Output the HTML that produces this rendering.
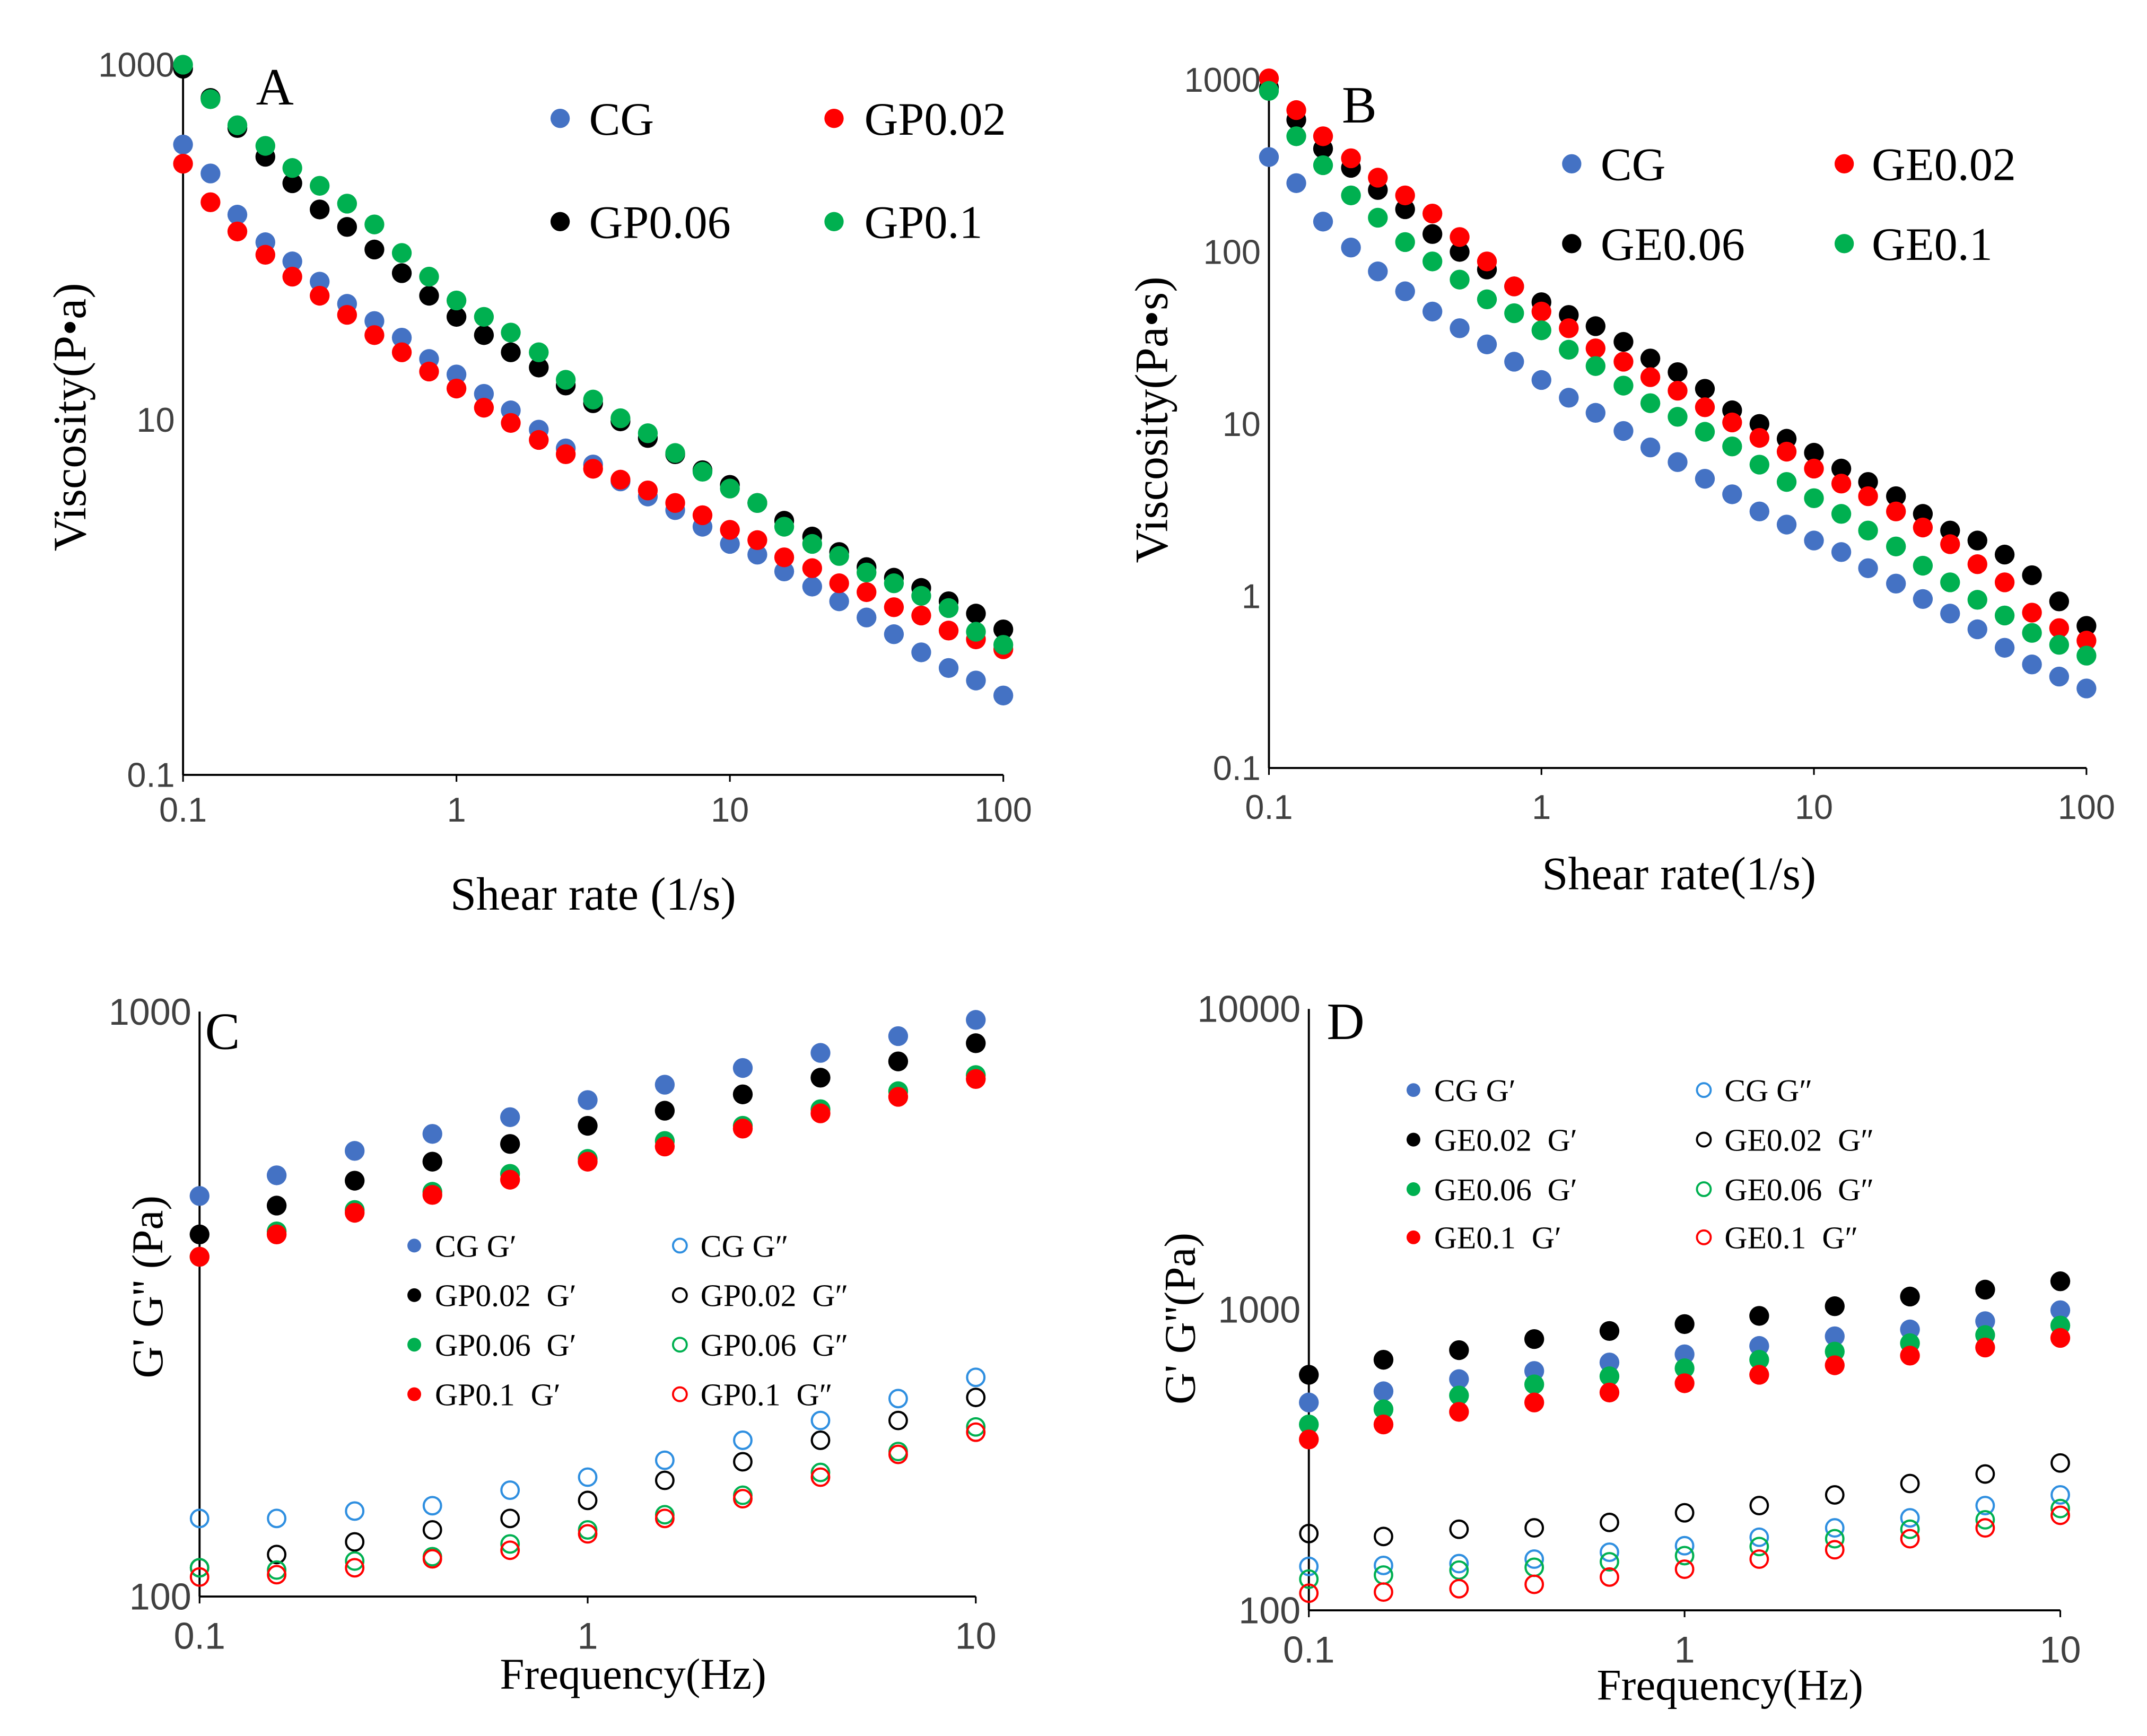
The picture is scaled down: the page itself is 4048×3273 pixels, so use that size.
<!DOCTYPE html>
<html><head><meta charset="utf-8"><style>
html,body{margin:0;padding:0;background:#fff;}
svg{display:block;}
text{font-family:"Liberation Serif",serif;white-space:pre;}
text.tick{font-family:"Liberation Sans Narrow","Liberation Sans",sans-serif;}
</style></head><body>
<svg id="fig" width="4048" height="3273" viewBox="0 0 1560 1261.3" xmlns="http://www.w3.org/2000/svg"></svg>
<script>
// ---------- data ----------
const shearRates = [0.1,0.126,0.158,0.2,0.251,0.316,0.398,0.501,0.631,0.794,1,1.26,1.58,2,2.51,3.16,3.98,5.01,6.31,7.94,10,12.6,15.8,20,25.1,31.6,39.8,50.1,63.1,79.4,100];
const freqs = [0.1,0.158,0.251,0.398,0.631,1,1.58,2.51,3.98,6.31,10];

const aCG = [355,244,143,100,78,60,45,36,29,22,18,14,11.3,8.8,6.9,5.6,4.5,3.7,3.1,2.5,2.0,1.74,1.4,1.15,0.95,0.77,0.62,0.49,0.40,0.34,0.28];
const aGP002 = [277,168,115,85,64,50,39,30,24,18.7,15,11.7,9.6,7.7,6.4,5.3,4.6,4.0,3.4,2.9,2.4,2.1,1.68,1.46,1.2,1.07,0.88,0.79,0.65,0.58,0.51];
const aGP006 = [950,650,440,303,215,153,122,91,67,50,38,30,24,19.7,15.6,12.4,9.8,7.9,6.4,5.2,4.3,3.4,2.7,2.2,1.8,1.48,1.29,1.13,0.95,0.81,0.66];
const aGP01 = [1000,640,456,349,262,208,165,126,87,64,47,38,31,24,16.8,13,10.2,8.4,6.5,5.1,4.1,3.4,2.5,2.0,1.71,1.38,1.2,1.02,0.87,0.64,0.54];

const bCG = [356,251,150,106,77,59,45,36,29,23,18,14.2,11.6,9.1,7.3,6.0,4.8,3.9,3.1,2.6,2.1,1.8,1.45,1.18,0.96,0.79,0.64,0.50,0.40,0.34,0.29];
const bGE002 = [1020,667,470,350,270,213,167,122,88,63,45,36,27.5,23,18.7,15.6,12.5,10.2,8.3,6.9,5.5,4.5,3.8,3.1,2.5,2.0,1.53,1.2,0.8,0.65,0.55];
const bGE006 = [900,586,398,308,229,177,127,100,79,63,51,43,37,30,24,20,16,12,10,8.2,6.8,5.5,4.6,3.8,3.0,2.4,2.1,1.74,1.32,0.93,0.67];
const bGE01 = [863,470,319,213,158,114,88,69,53,44,35,27,21.7,16.7,13.2,11,9.0,7.4,5.8,4.6,3.7,3.0,2.4,1.94,1.5,1.2,0.95,0.77,0.61,0.52,0.45];

const cCGp = [484,525,578,618,660,706,750,801,850,908,968];
const cGP002p = [416,466,514,554,594,638,677,722,771,822,883];
const cGP006p = [381,421,458,492,528,560,601,638,681,731,779];
const cGP01p = [381,416,453,486,516,554,588,631,670,715,767];
const cCGpp = [136,136,140,143,152,160,171,185,200,218,237];
const cGP002pp = [112,118,124,130,136,146,158,170,185,200,219];
const cGP006pp = [112,111,115,117,123,130,138,149,163,177,195];
const cGP01pp = [108,109,112,116,120,128,136,147,160,175,191];

const dGE002p = [607,681,733,798,849,895,953,1026,1105,1165,1242];
const dCGp = [491,535,587,625,667,710,757,815,859,915,995];
const dGE006p = [415,466,518,564,600,638,681,725,773,823,885];
const dGE01p = [370,415,457,491,530,569,607,653,703,748,805];
const dGE002pp = [180,176,186,188,196,211,223,242,264,284,309];
const dCGpp = [140,141,143,148,156,164,175,188,203,223,242];
const dGE006pp = [127,131,136,139,145,152,163,173,186,200,218];
const dGE01pp = [114,115,118,122,129,137,148,159,173,188,207];

const aYTicks = ["1000","10","0.1"];
const bYTicks = ["1000","100","10","1","0.1"];
const cYTicks = ["1000","100"];
const dYTicks = ["10000","1000","100"];
const abXTicks = ["0.1","1","10","100"];
const cdXTicks = ["0.1","1","10"];

// ---------- drawing ----------
const NS="http://www.w3.org/2000/svg";
const svg=document.getElementById('fig');
const BLUE="#4472C4",RED="#FF0000",BLK="#000000",GRN="#00B050",OBLUE="#2F8FE0";
function mk(tag,attrs,parent){const e=document.createElementNS(NS,tag);for(const k in attrs)e.setAttribute(k,attrs[k]);(parent||svg).appendChild(e);return e;}
function logAxis(v0,v1,p0,p1){const l0=Math.log10(v0),l1=Math.log10(v1);return v=>p0+(Math.log10(v)-l0)/(l1-l0)*(p1-p0);}

function panel(cfg){
  const g=mk('g',{});
  
  
  const X=logAxis(cfg.xmin,cfg.xmax,cfg.x0,cfg.x1);
  const Y=logAxis(cfg.ymin,cfg.ymax,cfg.y0,cfg.y1);
  const ya=mk('line',{x1:cfg.x0,y1:cfg.y0,x2:cfg.x0,y2:cfg.y1,stroke:'#000','stroke-width':1.5},g);
  
  
  const xa=mk('line',{x1:cfg.x0,y1:cfg.y0,x2:cfg.x1,y2:cfg.y0,stroke:'#000','stroke-width':1.5},g);
  
  
  cfg.xticks.forEach(t=>{
    const x=X(parseFloat(t));
    mk('line',{x1:x,y1:cfg.y0,x2:x,y2:cfg.y0+5,stroke:'#000','stroke-width':1.2},g);
    const tx=mk('text',{class:'tick',x:x,y:cfg.y0+cfg.xtdy,'text-anchor':'middle','font-size':cfg.tfs,fill:'#404040'},g);
    tx.textContent=t;
    
    
  });
  cfg.yticks.forEach(t=>{
    const y=Y(parseFloat(t));
    const tx=mk('text',{class:'tick',x:cfg.x0-6,y:y+cfg.tfs*0.35,'text-anchor':'end','font-size':cfg.tfs,fill:'#404040'},g);
    tx.textContent=t;
    
    
  });
  const xt=mk('text',{x:cfg.xtx,y:cfg.xty,'text-anchor':'middle','font-size':cfg.afs},g);
  xt.textContent=cfg.xtitle;
  
  
  const yt=mk('text',{x:0,y:0,'text-anchor':'middle','font-size':cfg.afs,transform:`translate(${cfg.ytx},${cfg.yty}) rotate(-90)`},g);
  yt.textContent=cfg.ytitle;
  
  
  const pl=mk('text',{x:cfg.lx,y:cfg.ly,'font-size':38},g);
  pl.textContent=cfg.letter;
  
  
  cfg.series.forEach(s=>{
    const sg=mk('g',{},g);
    
    
    s.vals.forEach((v,i)=>{
      const c=mk('circle',{cx:X(cfg.xs[i]),cy:Y(v),r:s.open?6.3:7.2,fill:s.open?'none':s.color,stroke:s.open?s.color:'none','stroke-width':1.6},sg);
      
      
    });
  });
  cfg.legend.forEach(L=>{
    const lg=mk('g',{},g);
    
    
    mk('circle',{cx:L.mx,cy:L.y,r:L.r,fill:L.open?'none':L.color,stroke:L.open?L.color:'none','stroke-width':1.5},lg);
    const t=mk('text',{x:L.tx,y:L.y+L.fs*0.35,'font-size':L.fs},lg);
    t.textContent=L.text;
  });
}

panel({name:'panel-a',letter:'A',lx:186,ly:76,xs:shearRates,xmin:0.1,xmax:100,x0:133,x1:729,ymin:0.1,ymax:1000,y0:563,y1:47,
  xticks:abXTicks,yticks:aYTicks,tfs:25,xtdy:34,afs:34,xtitle:'Shear rate (1/s)',xtx:431,xty:661,ytitle:'Viscosity(P•a)',ytx:62,yty:303,
  series:[{key:'cg',vals:aCG,color:BLUE},{key:'gp0.02',vals:aGP002,color:RED},{key:'gp0.06',vals:aGP006,color:BLK},{key:'gp0.1',vals:aGP01,color:GRN}],
  legend:[{mx:407,tx:428,y:86,color:BLUE,text:'CG',fs:34,r:7},{mx:606,tx:628,y:86,color:RED,text:'GP0.02',fs:34,r:7},
          {mx:407,tx:428,y:161,color:BLK,text:'GP0.06',fs:34,r:7},{mx:606,tx:628,y:161,color:GRN,text:'GP0.1',fs:34,r:7}]});

panel({name:'panel-b',letter:'B',lx:975,ly:89,xs:shearRates,xmin:0.1,xmax:100,x0:922,x1:1516,ymin:0.1,ymax:1000,y0:558,y1:58,
  xticks:abXTicks,yticks:bYTicks,tfs:25,xtdy:37,afs:34,xtitle:'Shear rate(1/s)',xtx:1220,xty:646,ytitle:'Viscosity(Pa•s)',ytx:848,yty:305,
  series:[{key:'cg',vals:bCG,color:BLUE},{key:'ge0.06',vals:bGE006,color:BLK},{key:'ge0.02',vals:bGE002,color:RED},{key:'ge0.1',vals:bGE01,color:GRN}],
  legend:[{mx:1142,tx:1163,y:119,color:BLUE,text:'CG',fs:34,r:7},{mx:1340,tx:1360,y:119,color:RED,text:'GE0.02',fs:34,r:7},
          {mx:1142,tx:1163,y:177,color:BLK,text:'GE0.06',fs:34,r:7},{mx:1340,tx:1360,y:177,color:GRN,text:'GE0.1',fs:34,r:7}]});

panel({name:'panel-c',letter:'C',lx:149,ly:762,xs:freqs,xmin:0.1,xmax:10,x0:145,x1:709,ymin:100,ymax:1000,y0:1160,y1:735,
  xticks:cdXTicks,yticks:cYTicks,tfs:27,xtdy:38,afs:32,xtitle:'Frequency(Hz)',xtx:460,xty:1227,ytitle:"G' G'' (Pa)",ytx:118,yty:935,
  series:[{key:'cg-gp',vals:cCGp,color:BLUE},{key:'gp0.02-gp',vals:cGP002p,color:BLK},{key:'gp0.06-gp',vals:cGP006p,color:GRN},{key:'gp0.1-gp',vals:cGP01p,color:RED},
          {key:'cg-gpp',vals:cCGpp,color:OBLUE,open:true},{key:'gp0.02-gpp',vals:cGP002pp,color:BLK,open:true},{key:'gp0.06-gpp',vals:cGP006pp,color:GRN,open:true},{key:'gp0.1-gpp',vals:cGP01pp,color:RED,open:true}],
  legend:[{mx:301,tx:316,y:905,color:BLUE,text:'CG G′',fs:23,r:5},{mx:494,tx:509,y:905,color:OBLUE,open:true,text:'CG G″',fs:23,r:5},
          {mx:301,tx:316,y:941,color:BLK,text:'GP0.02  G′',fs:23,r:5},{mx:494,tx:509,y:941,color:BLK,open:true,text:'GP0.02  G″',fs:23,r:5},
          {mx:301,tx:316,y:977,color:GRN,text:'GP0.06  G′',fs:23,r:5},{mx:494,tx:509,y:977,color:GRN,open:true,text:'GP0.06  G″',fs:23,r:5},
          {mx:301,tx:316,y:1013,color:RED,text:'GP0.1  G′',fs:23,r:5},{mx:494,tx:509,y:1013,color:RED,open:true,text:'GP0.1  G″',fs:23,r:5}]});

panel({name:'panel-d',letter:'D',lx:964,ly:755,xs:freqs,xmin:0.1,xmax:10,x0:951,x1:1497,ymin:100,ymax:10000,y0:1170,y1:733,
  xticks:cdXTicks,yticks:dYTicks,tfs:27,xtdy:38,afs:32,xtitle:'Frequency(Hz)',xtx:1257,xty:1235,ytitle:"G' G''(Pa)",ytx:868,yty:958,
  series:[{key:'cg-gp',vals:dCGp,color:BLUE},{key:'ge0.02-gp',vals:dGE002p,color:BLK},{key:'ge0.06-gp',vals:dGE006p,color:GRN},{key:'ge0.1-gp',vals:dGE01p,color:RED},
          {key:'ge0.02-gpp',vals:dGE002pp,color:BLK,open:true},{key:'cg-gpp',vals:dCGpp,color:OBLUE,open:true},{key:'ge0.06-gpp',vals:dGE006pp,color:GRN,open:true},{key:'ge0.1-gpp',vals:dGE01pp,color:RED,open:true}],
  legend:[{mx:1027,tx:1042,y:792,color:BLUE,text:'CG G′',fs:23,r:5},{mx:1238,tx:1253,y:792,color:OBLUE,open:true,text:'CG G″',fs:23,r:5},
          {mx:1027,tx:1042,y:828,color:BLK,text:'GE0.02  G′',fs:23,r:5},{mx:1238,tx:1253,y:828,color:BLK,open:true,text:'GE0.02  G″',fs:23,r:5},
          {mx:1027,tx:1042,y:864,color:GRN,text:'GE0.06  G′',fs:23,r:5},{mx:1238,tx:1253,y:864,color:GRN,open:true,text:'GE0.06  G″',fs:23,r:5},
          {mx:1027,tx:1042,y:899,color:RED,text:'GE0.1  G′',fs:23,r:5},{mx:1238,tx:1253,y:899,color:RED,open:true,text:'GE0.1  G″',fs:23,r:5}]});
</script>
</body></html>
